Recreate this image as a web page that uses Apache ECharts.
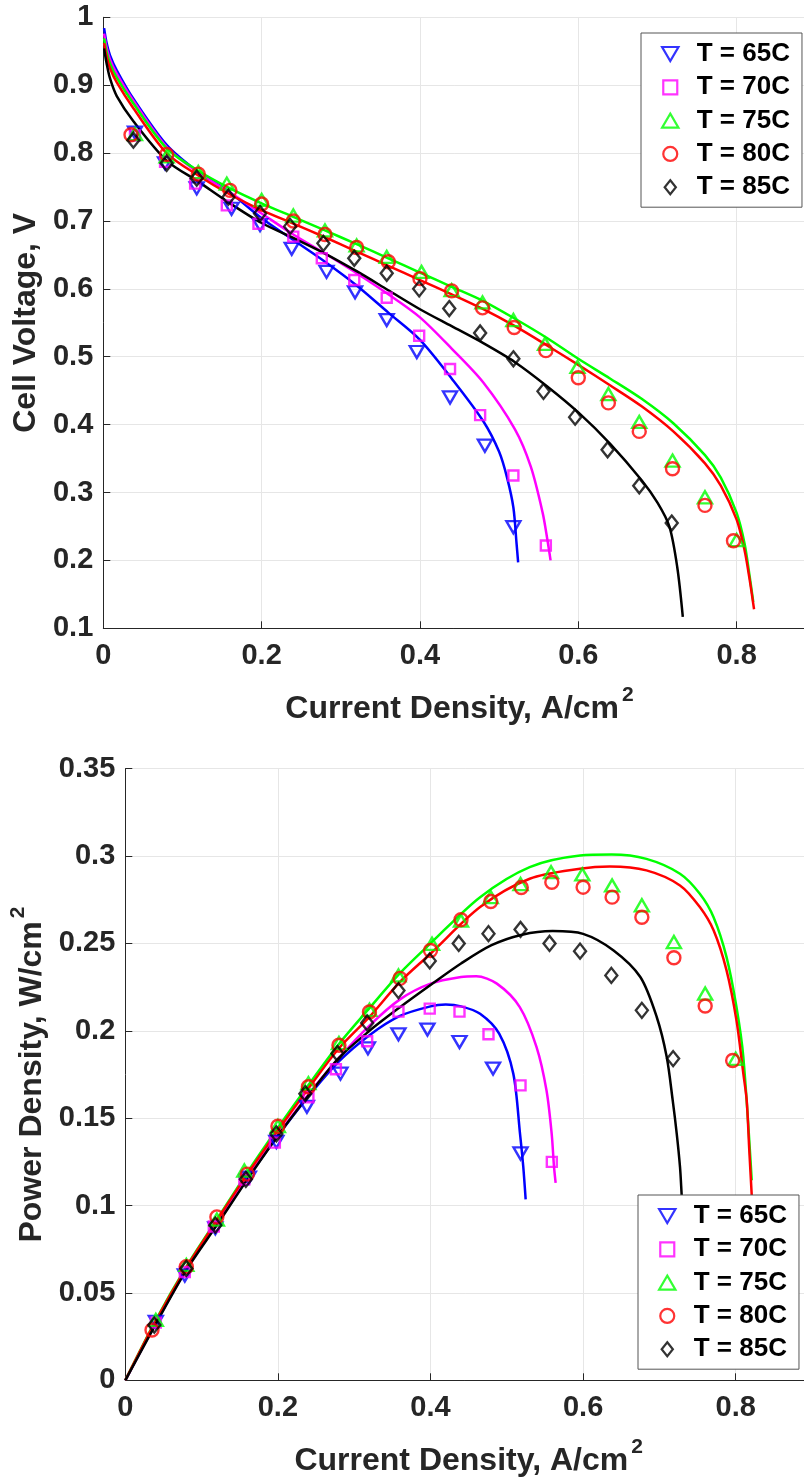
<!DOCTYPE html>
<html>
<head>
<meta charset="utf-8">
<script src="https://cdn.jsdelivr.net/npm/echarts@6/dist/echarts.min.js"></script>
<style>
html, body { margin: 0; padding: 0; background: #fff; }
#chart-container { width: 804px; height: 1481px; }
</style>
</head>
<body>
<div id="chart-container"></div>
<script>
var dom = document.getElementById('chart-container');
var myChart = echarts.init(dom, null, { renderer: 'canvas' });

var temps = ['T = 65C', 'T = 70C', 'T = 75C', 'T = 80C', 'T = 85C'];

// measured current density (A/cm2), voltage (V) and power density (W/cm2)
var i65 = [0.04, 0.078, 0.118, 0.162, 0.198, 0.238, 0.282, 0.318, 0.358, 0.396, 0.438, 0.482, 0.518];
var v65 = [0.830, 0.785, 0.748, 0.718, 0.694, 0.659, 0.625, 0.595, 0.554, 0.507, 0.440, 0.369, 0.249];
var p65 = [0.0335, 0.060, 0.087, 0.116, 0.1364, 0.1565, 0.1755, 0.190, 0.198, 0.2007, 0.1936, 0.1784, 0.1298];

var i70 = [0.04, 0.078, 0.116, 0.156, 0.196, 0.24, 0.276, 0.317, 0.358, 0.399, 0.438, 0.476, 0.518, 0.559];
var v70 = [0.826, 0.787, 0.755, 0.723, 0.696, 0.677, 0.645, 0.613, 0.587, 0.531, 0.482, 0.414, 0.325, 0.222];
var p70 = [0.033, 0.062, 0.088, 0.115, 0.136, 0.162, 0.178, 0.194, 0.211, 0.2127, 0.211, 0.198, 0.1688, 0.125];

var i75 = [0.04, 0.08, 0.12, 0.156, 0.2, 0.24, 0.28, 0.32, 0.358, 0.402, 0.44, 0.479, 0.518, 0.558, 0.599, 0.638, 0.677, 0.719, 0.76, 0.80];
var v75 = [0.828, 0.795, 0.772, 0.755, 0.731, 0.708, 0.686, 0.664, 0.647, 0.625, 0.598, 0.580, 0.554, 0.519, 0.485, 0.445, 0.404, 0.347, 0.293, 0.230];
var p75 = [0.0345, 0.066, 0.092, 0.120, 0.1455, 0.170, 0.193, 0.212, 0.2317, 0.2498, 0.263, 0.2765, 0.284, 0.2908, 0.2895, 0.2832, 0.2718, 0.2508, 0.2213, 0.184];

var i80 = [0.035, 0.08, 0.12, 0.16, 0.2, 0.24, 0.28, 0.32, 0.36, 0.40, 0.44, 0.479, 0.519, 0.559, 0.600, 0.638, 0.677, 0.719, 0.76, 0.796];
var v80 = [0.827, 0.798, 0.769, 0.745, 0.725, 0.700, 0.680, 0.661, 0.640, 0.615, 0.597, 0.572, 0.543, 0.509, 0.469, 0.432, 0.390, 0.335, 0.281, 0.229];
var p80 = [0.0288, 0.065, 0.0935, 0.118, 0.1454, 0.168, 0.1917, 0.2108, 0.230, 0.246, 0.2636, 0.274, 0.282, 0.285, 0.2822, 0.2765, 0.265, 0.2418, 0.2142, 0.183];

var i85 = [0.038, 0.08, 0.118, 0.158, 0.198, 0.236, 0.278, 0.317, 0.358, 0.399, 0.437, 0.476, 0.518, 0.556, 0.596, 0.637, 0.677, 0.718];
var v85 = [0.819, 0.785, 0.763, 0.735, 0.711, 0.692, 0.667, 0.645, 0.623, 0.600, 0.571, 0.535, 0.497, 0.449, 0.411, 0.363, 0.310, 0.255];
var p85 = [0.0316, 0.064, 0.0888, 0.115, 0.141, 0.164, 0.187, 0.2045, 0.223, 0.240, 0.250, 0.2556, 0.258, 0.250, 0.2456, 0.2317, 0.2117, 0.1841];

// model curves, polarization
var fitI65 = [0.001, 0.0042, 0.0085, 0.017, 0.038, 0.08, 0.12, 0.16, 0.20, 0.24, 0.28, 0.32, 0.36, 0.40, 0.44, 0.48, 0.50, 0.51, 0.518, 0.522, 0.524];
var fitV65 = [0.984, 0.962, 0.944, 0.922, 0.880, 0.812, 0.772, 0.742, 0.704, 0.672, 0.640, 0.605, 0.565, 0.525, 0.468, 0.405, 0.360, 0.322, 0.278, 0.225, 0.197];
var fitI70 = [0.001, 0.0042, 0.0085, 0.017, 0.038, 0.08, 0.12, 0.16, 0.20, 0.24, 0.28, 0.32, 0.36, 0.40, 0.44, 0.48, 0.52, 0.54, 0.555, 0.561, 0.565];
var fitV70 = [0.976, 0.955, 0.938, 0.917, 0.877, 0.809, 0.771, 0.742, 0.711, 0.680, 0.652, 0.623, 0.592, 0.558, 0.512, 0.462, 0.393, 0.338, 0.270, 0.230, 0.200];
var fitI75 = [0.001, 0.0042, 0.0085, 0.017, 0.038, 0.08, 0.12, 0.16, 0.20, 0.24, 0.28, 0.32, 0.36, 0.40, 0.44, 0.48, 0.52, 0.56, 0.60, 0.64, 0.68, 0.72, 0.76, 0.78, 0.80, 0.81, 0.816, 0.821];
var fitV75 = [0.969, 0.949, 0.932, 0.911, 0.873, 0.807, 0.774, 0.748, 0.726, 0.706, 0.686, 0.666, 0.645, 0.624, 0.603, 0.582, 0.556, 0.528, 0.497, 0.468, 0.438, 0.402, 0.355, 0.322, 0.270, 0.225, 0.180, 0.139];
var fitI80 = [0.001, 0.0042, 0.0085, 0.017, 0.038, 0.08, 0.12, 0.16, 0.20, 0.24, 0.28, 0.32, 0.36, 0.40, 0.44, 0.48, 0.52, 0.56, 0.60, 0.64, 0.68, 0.72, 0.76, 0.78, 0.80, 0.81, 0.816, 0.822];
var fitV80 = [0.962, 0.942, 0.925, 0.904, 0.866, 0.800, 0.767, 0.739, 0.716, 0.696, 0.676, 0.655, 0.634, 0.613, 0.592, 0.570, 0.545, 0.517, 0.488, 0.458, 0.427, 0.390, 0.343, 0.310, 0.260, 0.215, 0.175, 0.128];
var fitI85 = [0.001, 0.0042, 0.0085, 0.017, 0.038, 0.08, 0.12, 0.16, 0.20, 0.24, 0.28, 0.32, 0.36, 0.40, 0.44, 0.48, 0.52, 0.56, 0.60, 0.64, 0.68, 0.70, 0.715, 0.725, 0.732];
var fitV85 = [0.954, 0.932, 0.910, 0.884, 0.847, 0.789, 0.758, 0.726, 0.697, 0.675, 0.652, 0.626, 0.598, 0.570, 0.545, 0.520, 0.492, 0.457, 0.418, 0.372, 0.318, 0.285, 0.250, 0.190, 0.117];

// model curves, power
var fitPI65 = [0, 0.04, 0.08, 0.12, 0.16, 0.20, 0.24, 0.28, 0.32, 0.36, 0.40, 0.42, 0.44, 0.465, 0.49, 0.5085, 0.5173, 0.5216, 0.5247];
var fitP65 = [0, 0.0328, 0.0635, 0.0895, 0.1155, 0.1400, 0.1625, 0.1825, 0.1975, 0.2085, 0.2140, 0.2150, 0.2140, 0.2098, 0.1984, 0.1755, 0.1412, 0.1221, 0.1035];
var fitPI70 = [0, 0.04, 0.08, 0.12, 0.16, 0.20, 0.24, 0.28, 0.32, 0.36, 0.40, 0.44, 0.46, 0.487, 0.517, 0.539, 0.552, 0.5588, 0.5619, 0.564];
var fitP70 = [0, 0.0328, 0.0638, 0.0900, 0.1160, 0.1405, 0.1635, 0.1845, 0.2030, 0.2180, 0.2270, 0.2308, 0.2312, 0.2270, 0.2136, 0.1907, 0.166, 0.1412, 0.1221, 0.113];
var fitPI75 = [0, 0.04, 0.08, 0.12, 0.16, 0.20, 0.24, 0.28, 0.32, 0.36, 0.40, 0.465, 0.53, 0.596, 0.6375, 0.683, 0.727, 0.753, 0.771, 0.788, 0.801, 0.81, 0.821];
var fitP75 = [0, 0.0345, 0.0650, 0.0920, 0.1190, 0.1445, 0.1690, 0.1925, 0.2130, 0.2330, 0.2500, 0.2765, 0.2937, 0.3003, 0.3009, 0.2984, 0.2899, 0.2784, 0.2650, 0.2422, 0.2136, 0.1850, 0.1145];
var fitPI80 = [0, 0.04, 0.08, 0.12, 0.16, 0.20, 0.24, 0.28, 0.32, 0.36, 0.40, 0.465, 0.53, 0.596, 0.635, 0.683, 0.727, 0.753, 0.771, 0.788, 0.801, 0.81, 0.8144, 0.8178, 0.821];
var fitP80 = [0, 0.034, 0.0645, 0.0915, 0.1180, 0.1430, 0.1670, 0.1900, 0.2080, 0.2280, 0.2441, 0.2708, 0.2870, 0.2927, 0.2940, 0.2918, 0.2832, 0.2708, 0.2575, 0.2346, 0.206, 0.1755, 0.1603, 0.1317, 0.106];
var fitPI85 = [0, 0.04, 0.08, 0.12, 0.16, 0.20, 0.24, 0.28, 0.32, 0.36, 0.40, 0.44, 0.48, 0.52, 0.56, 0.60, 0.64, 0.675, 0.6965, 0.7096, 0.7174, 0.7227, 0.727, 0.7292, 0.732];
var fitP85 = [0, 0.0322, 0.0630, 0.0888, 0.1150, 0.1400, 0.1630, 0.1845, 0.2000, 0.2135, 0.2262, 0.2385, 0.2490, 0.2550, 0.2571, 0.2555, 0.2460, 0.2308, 0.2079, 0.185, 0.1603, 0.1412, 0.1221, 0.106, 0.086];

var font = '"Liberation Sans", Arial, Helvetica, sans-serif';
var axisColor = '#262626';
var gridColor = '#e6e6e6';
var colors = ['#0000ff', '#ff00ff', '#00ff00', '#ff0000', '#000000'];
// path markers keep their aspect inside the legend box
var symbols = [
    'path://M0,0L14,0L7,12Z',
    'path://M0,0L10,0L10,10L0,10Z',
    'path://M7,0L14,12L0,12Z',
    'circle',
    'path://M6,0L12,7.5L6,15L0,7.5Z'
];
var symbolSizes = [[14, 12], [10, 10], [14, 12], [13, 13], [12, 15]];

var measI = [i65, i70, i75, i80, i85];
var measV = [v65, v70, v75, v80, v85];
var measP = [p65, p70, p75, p80, p85];
var curveI = [fitI65, fitI70, fitI75, fitI80, fitI85];
var curveV = [fitV65, fitV70, fitV75, fitV80, fitV85];
var curvePI = [fitPI65, fitPI70, fitPI75, fitPI80, fitPI85];
var curveP = [fitP65, fitP70, fitP75, fitP80, fitP85];

function pts(xs, ys) {
    return xs.map(function (x, k) { return [x, ys[k]]; });
}

var nameRich = {
    t: { fontSize: 32, fontWeight: 'bold', color: axisColor, fontFamily: font },
    s: { fontSize: 21, fontWeight: 'bold', color: axisColor, fontFamily: font, padding: [0, 0, 28, 3] }
};

function xAxisFor(g) {
    return {
        type: 'value', gridIndex: g, min: 0, max: 0.9, interval: 0.2,
        name: '{t|Current Density, A/cm}{s|2}', nameLocation: 'middle', nameGap: 56,
        nameTextStyle: { rich: nameRich },
        axisLine: { show: true, onZero: false, lineStyle: { color: axisColor, width: 1 } },
        axisTick: { show: true, inside: true, length: 7, lineStyle: { color: axisColor } },
        axisLabel: { color: axisColor, fontSize: 29, fontWeight: 'bold', fontFamily: font, margin: 13, showMaxLabel: false },
        splitLine: { show: true, lineStyle: { color: gridColor, width: 1 } }
    };
}

function yAxisFor(g, min, max, interval, name, gap) {
    return {
        type: 'value', gridIndex: g, min: min, max: max, interval: interval,
        name: name, nameLocation: 'middle', nameGap: gap,
        nameTextStyle: { rich: nameRich },
        axisLine: { show: true, onZero: false, lineStyle: { color: axisColor, width: 1 } },
        axisTick: { show: true, inside: true, length: 7, lineStyle: { color: axisColor } },
        axisLabel: { color: axisColor, fontSize: 29, fontWeight: 'bold', fontFamily: font, margin: 10 },
        splitLine: { show: true, lineStyle: { color: gridColor, width: 1 } }
    };
}

function legendAt(left, top) {
    return {
        data: temps, orient: 'vertical', left: left, top: top,
        padding: [8, 12, 7, 20], itemGap: 7.3, itemWidth: 43, itemHeight: 14,
        backgroundColor: '#fff', borderColor: '#555', borderWidth: 1, borderRadius: 0,
        selectedMode: false,
        itemStyle: { borderWidth: 2.2 },
        textStyle: { fontSize: 26, fontWeight: 'bold', color: '#000', fontFamily: font }
    };
}

var series = [];
for (var g = 0; g < 2; g++) {
    for (var k = 0; k < 5; k++) {
        series.push({
            type: 'scatter', name: temps[k], xAxisIndex: g, yAxisIndex: g,
            data: pts(measI[k], g === 0 ? measV[k] : measP[k]),
            symbol: symbols[k], symbolSize: symbolSizes[k],
            itemStyle: { color: 'rgba(0,0,0,0)', borderColor: colors[k], borderWidth: 2.4 },
            silent: true, z: 3
        });
        series.push({
            type: 'line', name: 'model ' + temps[k], xAxisIndex: g, yAxisIndex: g,
            data: g === 0 ? pts(curveI[k], curveV[k]) : pts(curvePI[k], curveP[k]),
            showSymbol: false, smooth: 0.3,
            lineStyle: { color: colors[k], width: 2.5 },
            itemStyle: { color: colors[k] },
            silent: true, z: 3
        });
    }
}

var option = {
    animation: false,
    textStyle: { fontFamily: font },
    grid: [
        { left: 103.3, top: 17.3, width: 712.5, height: 611, outerBoundsMode: 'none' },
        { left: 125.3, top: 768.7, width: 686.7, height: 611.6, outerBoundsMode: 'none' }
    ],
    xAxis: [xAxisFor(0), xAxisFor(1)],
    yAxis: [
        yAxisFor(0, 0.1, 1, 0.1, '{t|Cell Voltage, V}', 57),
        yAxisFor(1, 0, 0.35, 0.05, '{t|Power Density, W/cm}{s|2}', 65)
    ],
    legend: [legendAt(641, 33), legendAt(638, 1195)],
    series: series
};

myChart.setOption(option);
window.addEventListener('resize', myChart.resize);
</script>
</body>
</html>
